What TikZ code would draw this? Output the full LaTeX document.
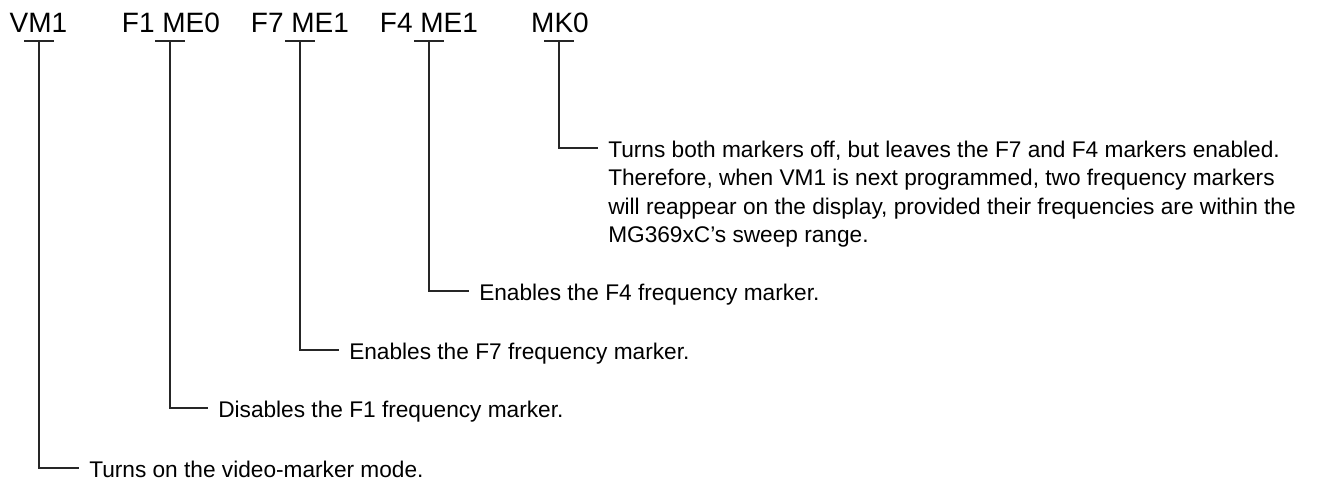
\documentclass[tikz,border=0pt]{standalone}
\usepackage{fontspec}
\setmainfont{Liberation Sans}
\usetikzlibrary{calc}
\begin{document}
\begin{tikzpicture}[x=0.75pt,y=-0.75pt,
  cmd/.style={inner sep=0pt,anchor=base,font=\fontsize{21}{25}\selectfont},
  lbl/.style={inner sep=0pt,anchor=base west,font=\fontsize{17}{20}\selectfont},
  wire/.style={line width=0.8pt,draw=black!85}]
\useasboundingbox (0,0) rectangle (1331,482);
% commands
\node[cmd] (vm1) at (38.5,32) {VM1};
\node[cmd] (f1)  at (171,32) {F1 ME0};
\node[cmd] (f7)  at (300,32) {F7 ME1};
\node[cmd] (f4)  at (429,32) {F4 ME1};
\node[cmd] (mk0) at (560,32) {MK0};
% T tops
\coordinate (tvm1) at (39,41);
\coordinate (tf1)  at (170,41);
\coordinate (tf7)  at (300,41);
\coordinate (tf4)  at (429,41);
\coordinate (tmk0) at (559,41);
% labels
\node[lbl] (lvm1) at (89,477) {Turns on the video-marker mode.};
\node[lbl] (lf1)  at (218,417) {Disables the F1 frequency marker.};
\node[lbl] (lf7)  at (349,359) {Enables the F7 frequency marker.};
\node[lbl] (lf4)  at (479,300) {Enables the F4 frequency marker.};
\node[lbl] (lmka) at (608,157) {Turns both markers off, but leaves the F7 and F4 markers enabled.};
\node[lbl] (lmkb) at (608,185.5) {Therefore, when VM1 is next programmed, two frequency markers};
\node[lbl] (lmkc) at (608,214) {will reappear on the display, provided their frequencies are within the};
\node[lbl] (lmkd) at (608,242.5) {MG369xC's sweep range.};
% connectors
\foreach \t/\l in {tvm1/lvm1,tf1/lf1,tf7/lf7,tf4/lf4,tmk0/lmka}{
  \draw[wire] ($(\t)+(-15,0)$) -- ($(\t)+(15,0)$);
  \draw[wire] (\t) |- ($(\l.base west)+(-10,-9)$);
}
\end{tikzpicture}
\end{document}
